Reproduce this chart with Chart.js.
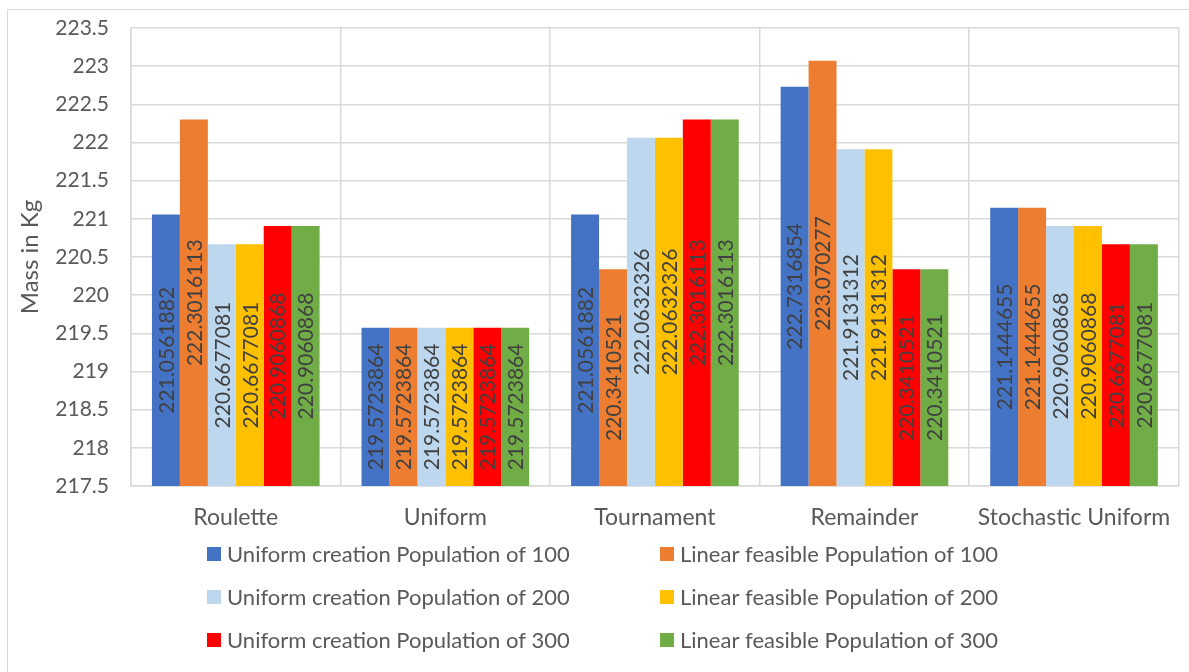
<!DOCTYPE html>
<html>
<head>
<meta charset="utf-8">
<script src="https://cdn.jsdelivr.net/npm/chart.js@4/dist/chart.umd.min.js"></script>
<style>
  html, body { margin: 0; padding: 0; background: #ffffff; overflow: hidden; }
  #frame { position: absolute; left: 7px; top: 9px; width: 1400px; height: 900px;
           border: 1.5px solid #d9d9d9; box-sizing: border-box; }
  #wrap { position: absolute; left: 0; top: 0; width: 1189px; height: 672px; }
</style>
</head>
<body>
<div id="frame"></div>
<div id="wrap"><canvas id="chart" width="1189" height="672"></canvas></div>
<script>
// Selection functions compared
const categories = ['Roulette', 'Uniform', 'Tournament', 'Remainder', 'Stochastic Uniform'];

// Best mass (kg) per selection function, one array per run setup
const uniform100 = [221.0561882, 219.5723864, 221.0561882, 222.7316854, 221.1444655];
const linear100  = [222.3016113, 219.5723864, 220.3410521, 223.070277, 221.1444655];
const uniform200 = [220.6677081, 219.5723864, 222.0632326, 221.9131312, 220.9060868];
const linear200  = [220.6677081, 219.5723864, 222.0632326, 221.9131312, 220.9060868];
const uniform300 = [220.9060868, 219.5723864, 222.3016113, 220.3410521, 220.6677081];
const linear300  = [220.9060868, 219.5723864, 222.3016113, 220.3410521, 220.6677081];

const seriesNames = [
  'Uniform creation Population of 100',
  'Linear feasible Population of 100',
  'Uniform creation Population of 200',
  'Linear feasible Population of 200',
  'Uniform creation Population of 300',
  'Linear feasible Population of 300'
];
const seriesValues = [uniform100, linear100, uniform200, linear200, uniform300, linear300];
const seriesColors = ['#4472C4', '#ED7D31', '#BDD7EE', '#FFC000', '#FF0000', '#70AD47'];

const axisMin = 217.5, axisMax = 223.5, axisStep = 0.5;

const FONT = 'Lato';
const TEXT = '#595959';
const GRID = '#d9d9d9';

// Value written vertically in the middle of each bar
const barValueLabels = {
  id: 'barValueLabels',
  afterDraw(chart) {
    const ctx = chart.ctx;
    const yScale = chart.scales.y;
    ctx.save();
    ctx.font = '21px ' + FONT;
    ctx.fillStyle = '#404040';
    ctx.textAlign = 'center';
    ctx.textBaseline = 'middle';
    chart.data.datasets.forEach((ds, i) => {
      const meta = chart.getDatasetMeta(i);
      meta.data.forEach((bar, j) => {
        const p = bar.getProps(['x'], true);
        const top = yScale.getPixelForValue(ds.data[j]);
        const bottom = yScale.getPixelForValue(axisMin);
        const cx = Number.isFinite(p.x) ? p.x : bar.x;
        const cy = (top + bottom) / 2;
        ctx.save();
        ctx.translate(cx, cy);
        ctx.rotate(-Math.PI / 2);
        ctx.fillText(String(ds.data[j]), 0, 1);
        ctx.restore();
      });
    });
    ctx.restore();
  }
};

// Two-column legend under the category labels
const gridLegend = {
  id: 'gridLegend',
  afterDraw(chart) {
    const ctx = chart.ctx;
    const area = chart.chartArea;
    const colX = [207, 660];
    const rowY = [area.bottom + 68, area.bottom + 111, area.bottom + 154];
    const box = 14;
    ctx.save();
    ctx.font = '22px ' + FONT;
    ctx.textAlign = 'left';
    ctx.textBaseline = 'middle';
    chart.data.datasets.forEach((ds, i) => {
      const x = colX[i % 2];
      const y = rowY[Math.floor(i / 2)];
      ctx.fillStyle = ds.backgroundColor;
      ctx.fillRect(x, y - box / 2, box, box);
      ctx.fillStyle = TEXT;
      ctx.fillText(ds.label, x + box + 6, y + 1);
    });
    ctx.restore();
  }
};

new Chart(document.getElementById('chart'), {
  type: 'bar',
  data: {
    labels: categories,
    datasets: seriesNames.map((name, i) => ({
      label: name,
      data: seriesValues[i],
      backgroundColor: seriesColors[i],
      borderWidth: 0,
      categoryPercentage: 0.8,
      barPercentage: 1.0
    }))
  },
  options: {
    responsive: false,
    animation: false,
    devicePixelRatio: 1,
    layout: { padding: { left: 0, right: 8, top: 28, bottom: 146 } },
    plugins: {
      legend: { display: false },
      tooltip: { enabled: false }
    },
    scales: {
      x: {
        grid: { color: GRID, lineWidth: 1.5, drawTicks: false, offset: true },
        border: { color: GRID, width: 1.5 },
        ticks: { color: TEXT, font: { family: FONT, size: 23 }, padding: 18, maxRotation: 0, autoSkip: false },
        afterFit(scale) { scale.height = 40; }
      },
      y: {
        min: axisMin,
        max: axisMax,
        grid: { color: GRID, lineWidth: 1.5, drawTicks: false },
        border: { color: GRID, width: 1.5 },
        ticks: {
          stepSize: axisStep,
          color: TEXT,
          font: { family: FONT, size: 21 },
          padding: 22,
          callback: (v) => String(Number(v))
        },
        title: {
          display: true,
          text: 'Mass in Kg',
          color: TEXT,
          font: { family: FONT, size: 24 },
          padding: { top: 16, bottom: 0 }
        },
        afterFit(scale) {
          scale.width = 131;
          scale.paddingTop = 0;
          scale.paddingBottom = 0;
        }
      }
    }
  },
  plugins: [barValueLabels, gridLegend]
});
</script>
</body>
</html>
